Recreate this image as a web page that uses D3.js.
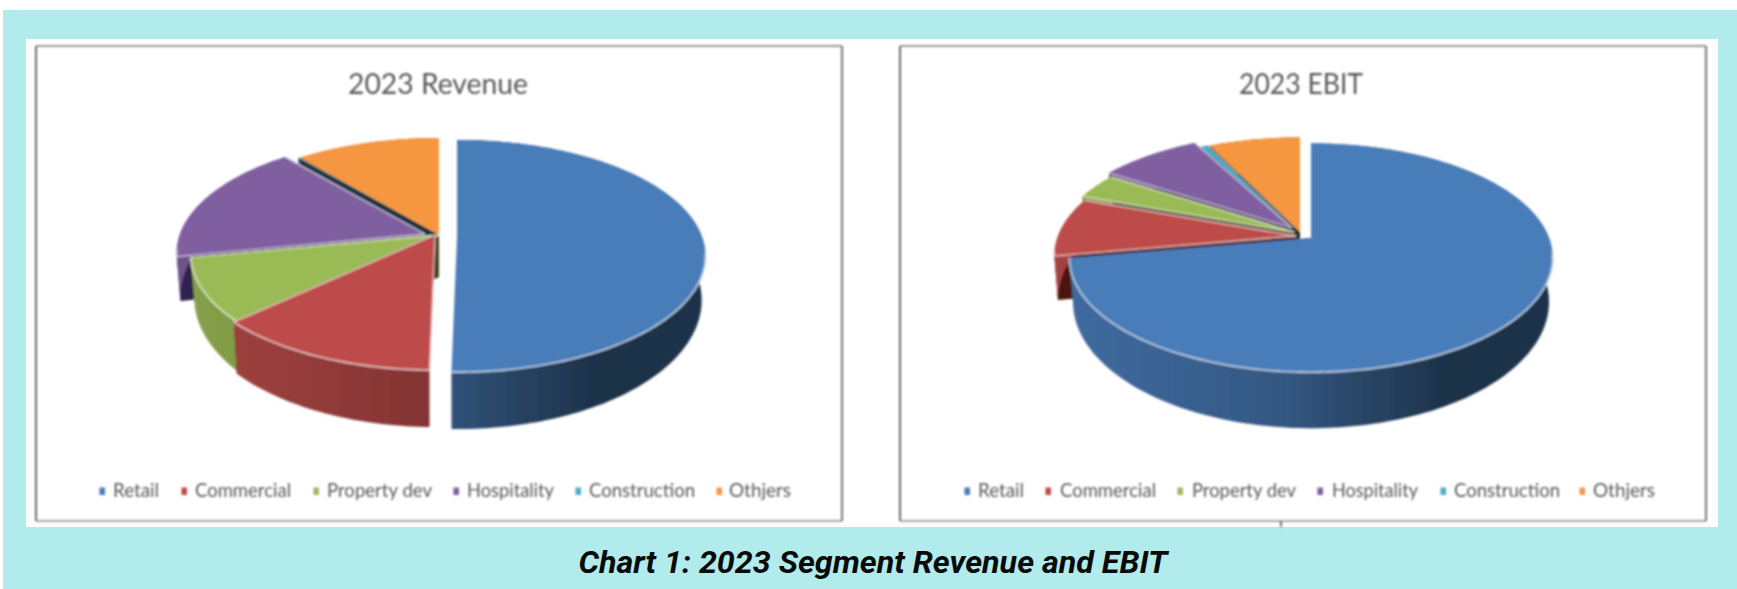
<!DOCTYPE html>
<html><head><meta charset="utf-8">
<script src="https://cdn.jsdelivr.net/npm/d3@7"></script>
<style>html,body{margin:0;padding:0;background:#fff}svg{display:block}</style>
</head><body><svg id="c" width="1737" height="589"></svg>
<script>
// ---- data ----
const categories = ["Retail","Commercial","Property dev","Hospitality","Construction","Othjers"];
const revenueShare = [50.3,12.7,8.9,17.0,0.1,11.0];
const ebitShare = [72.2,8.3,3.6,8.1,0.6,7.2];
const chartTitles = ["2023 Revenue","2023 EBIT"];
const caption = "Chart 1: 2023 Segment Revenue and EBIT";
const seriesColors = ["#4a7dba","#bd4c4a","#9aba54","#7f5fa0","#4bacc6","#f59640"];
const wallColors = ["#1c3050","#4a1210","#3d4a20","#2e2150","#12303c","#33210f"];

// ---- layout ----
const panels = [
 {values:revenueShare,title:chartTitles[0],frame:[36,46,842,521],titleX:438,titleW:180,
  cx:439,cy:235,rx:245,ry:113,k:0.164,depth:42,bs:0.985,bys:1.11,
  explode:[[18,2],[-4,0],[0,0],[-14,-1],[-1,0],[0,0]],
  legendMark:[102,184,316,456,578,719],legendText:[[113,46],[195,96],[327,105],[467,87],[589,106],[729,62]]},
 {values:ebitShare,title:chartTitles[1],frame:[900,46,1706,521],titleX:1301,titleW:124,
  cx:1301,cy:236,rx:238,ry:111,k:0.173,depth:42,bs:0.985,bys:1.104,
  explode:[[10,2],[-5,0],[-7,-4],[-9,-8],[-3,-4],[-1,-4]],
  legendMark:[967,1048,1180,1320,1443,1582],legendText:[[978,46],[1060,96],[1192,104],[1332,86],[1454,106],[1593,62]]}
];

const svg = d3.select("#c");
const defs = svg.append("defs");
defs.append("filter").attr("id","soft").attr("x","-5%").attr("y","-5%").attr("width","110%").attr("height","110%")
  .append("feGaussianBlur").attr("stdDeviation",0.9);

svg.append("rect").attr("x",3).attr("y",10).attr("width",1734).attr("height",579).attr("fill","#b2ebeb");
svg.append("rect").attr("x",26).attr("y",39).attr("width",1692).attr("height",488).attr("fill","#fff");

const color = d3.scaleOrdinal(categories, seriesColors);
const wall = d3.scaleOrdinal(categories, wallColors);
const line = d3.line();
const pale = c => d3.interpolateRgb(c,"#ffffff")(0.62);
const root = svg.append("g").attr("filter","url(#soft)");

panels.forEach((p,pi)=>{
  const g = root.append("g");
  const [x0,y0,x1,y1] = p.frame;
  const fr = (a,b,c,d,col,w)=>g.append("line").attr("x1",a).attr("y1",b).attr("x2",c).attr("y2",d).attr("stroke",col).attr("stroke-width",w);
  fr(x0,y0,x1,y0,"#777",1.6); fr(x0,y1,x1,y1,"#888",1.6);
  fr(x0,y0,x0,y1,"#444",1.6); fr(x1,y0,x1,y1,"#555",1.6);
  if(pi===1) fr(1281,y1,1281,527,"#333",1.4);

  g.append("text").attr("x",p.titleX).attr("y",94).attr("text-anchor","middle")
    .attr("font-family","Lato").attr("font-size",28).attr("fill","#595959")
    .attr("textLength",p.titleW).attr("lengthAdjust","spacingAndGlyphs").text(p.title);

  // projective mapping of the unit disc on the tilted pie
  const project = (theta,r,ex,bottom)=>{
    const u = r*Math.sin(theta), v = -r*Math.cos(theta);
    const w = 1/(1-p.k*v);
    return bottom
      ? [p.cx+ex[0]+p.bs*p.rx*u*w, p.cy+ex[1]+p.depth+p.bys*p.ry*v*w]
      : [p.cx+ex[0]+p.rx*u*w, p.cy+ex[1]+p.ry*v*w];
  };
  const pie = d3.pie().sort(null).value(d=>d.v);
  const arcs = pie(categories.map((c,i)=>({c,v:p.values[i],ex:p.explode[i]})));
  const xExtent = [p.cx-p.rx*1.02,p.cx+p.explode[0][0]+p.rx*1.02];
  const gid = (i)=>`side${pi}_${i}`;
  const stopT = [0,0.45,0.8,1], stopK = [0.4,1.0,2.7,2.5];
  categories.forEach((c,i)=>{
    const lg = defs.append("linearGradient").attr("id",gid(i)).attr("gradientUnits","userSpaceOnUse")
      .attr("x1",xExtent[0]).attr("x2",xExtent[1]).attr("y1",0).attr("y2",0);
    stopT.forEach((t,j)=>lg.append("stop").attr("offset",t).attr("stop-color",d3.color(color(c)).darker(stopK[j]).formatHex()));
  });

  // painter's order: back slices first, Retail last
  const order = arcs.map((a,i)=>({a,i})).reverse();
  order.forEach(({a,i})=>{
    const c = a.data.c, ex = a.data.ex;
    const n = Math.max(2,Math.ceil((a.endAngle-a.startAngle)/0.02));
    const ts = d3.range(n+1).map(j=>a.startAngle+(a.endAngle-a.startAngle)*j/n);
    const topRim = ts.map(t=>project(t,1,ex,false));
    const botRim = ts.map(t=>project(t,1,ex,true));
    const apexT = project(0,0,ex,false), apexB = project(0,0,ex,true);
    const s = g.append("g").attr("class","slice").datum(a);
    // cut faces, except those seen edge-on along the vertical axis of the pie
    [[ts[0],topRim[0],botRim[0]],[ts[n],topRim[n],botRim[n]]].forEach(([t,rt,rb])=>{
      if(Math.abs(Math.sin(t))<0.17) return;
      s.append("path").attr("d",line([apexT,rt,rb,apexB])+"Z").attr("fill",wall(c));
    });
    // outer rim
    s.append("path").attr("d",line(topRim.concat(botRim.slice().reverse()))+"Z").attr("fill",`url(#${gid(i)})`);
    // top
    s.append("path").attr("d",line([apexT].concat(topRim))+"Z").attr("fill",color(c));
    // pale highlight along the front of the rim and along the inner cut edges
    const frontPts = ts.filter(t=>Math.cos(t)<-0.12).map(t=>project(t,1,ex,false));
    if(frontPts.length>1) s.append("path").attr("d",line(frontPts)).attr("fill","none")
      .attr("stroke",pale(color(c))).attr("stroke-width",1.6);
    if(i>=1 && i<=3){
      [topRim[0],topRim[n]].forEach(e=>{
        s.append("path").attr("d",line([apexT,e])).attr("fill","none")
          .attr("stroke",pale(color(c))).attr("stroke-width",1.3);
      });
    }
  });

  // legend
  categories.forEach((c,i)=>{
    g.append("rect").attr("x",p.legendMark[i]-2.5).attr("y",487.5).attr("width",5.5).attr("height",7.5).attr("fill",color(c));
    g.append("text").attr("x",p.legendText[i][0]).attr("y",497).attr("font-family","Lato").attr("font-size",20)
      .attr("fill","#595959").attr("textLength",p.legendText[i][1]).attr("lengthAdjust","spacingAndGlyphs").text(c);
  });
});

svg.append("text").attr("x",873).attr("y",573).attr("text-anchor","middle")
  .attr("font-family","Roboto").attr("font-weight",700).attr("font-style","italic").attr("font-size",32)
  .attr("fill","#0a0a0a").attr("textLength",589).attr("lengthAdjust","spacingAndGlyphs").text(caption);
</script></body></html>
